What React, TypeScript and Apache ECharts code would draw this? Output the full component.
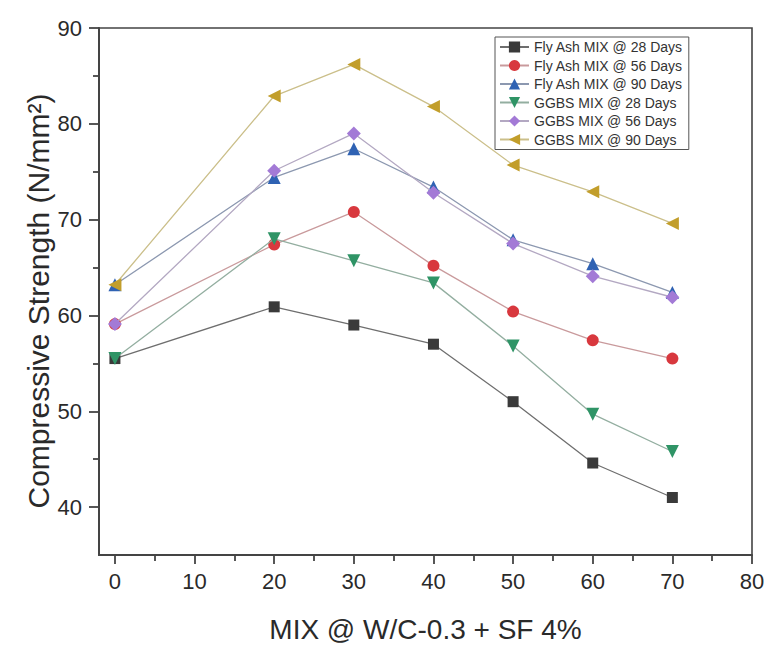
import React, { useEffect, useRef } from "react";
import * as echarts from "echarts";

// Replacement level (%) along the x axis
const mixLevels = [0, 20, 30, 40, 50, 60, 70];

// Compressive strength (N/mm²) for each mix and curing age
const flyAsh28 = [55.5, 60.9, 59.0, 57.0, 51.0, 44.6, 41.0];
const flyAsh56 = [59.1, 67.4, 70.8, 65.2, 60.4, 57.4, 55.5];
const flyAsh90 = [63.2, 74.4, 77.4, 73.4, 67.9, 65.4, 62.4];
const ggbs28 = [55.5, 68.0, 65.7, 63.4, 56.8, 49.7, 45.8];
const ggbs56 = [59.1, 75.1, 79.0, 72.8, 67.5, 64.1, 61.9];
const ggbs90 = [63.2, 82.9, 86.2, 81.8, 75.7, 72.9, 69.6];

const seriesNames = [
  "Fly Ash MIX @ 28 Days",
  "Fly Ash MIX @ 56 Days",
  "Fly Ash MIX @ 90 Days",
  "GGBS MIX @ 28 Days",
  "GGBS MIX @ 56 Days",
  "GGBS MIX @ 90 Days",
];

// Tick values
const xMajorTicks = [0, 10, 20, 30, 40, 50, 60, 70, 80];
const xMinorTicks = [5, 15, 25, 35, 45, 55, 65, 75];
const yMajorTicks = [40, 50, 60, 70, 80, 90];
const yMinorTicks = [45, 55, 65, 75, 85];

const X_MIN = -2;
const X_MAX = 80;
const Y_MIN = 35;
const Y_MAX = 90;

const xTitle = "MIX @ W/C-0.3 + SF 4%";
const yTitle = "Compressive Strength (N/mm²)";

const FONT = "'Liberation Sans', Arial, sans-serif";
const AXIS_COLOR = "#444";
const TEXT_COLOR = "#2a2a2a";

type Style = {
  symbol: string;
  size: number | number[];
  rotate: number;
  color: string;
  line: string;
};

const styles: Style[] = [
  { symbol: "rect", size: 11, rotate: 0, color: "#3a3a3a", line: "#6e6e6e" },
  { symbol: "circle", size: 12, rotate: 0, color: "#d8383e", line: "#c99a9c" },
  { symbol: "triangle", size: 13, rotate: 0, color: "#2f62b3", line: "#8c98b0" },
  { symbol: "triangle", size: 13, rotate: 180, color: "#2f9466", line: "#93aea0" },
  { symbol: "diamond", size: [14, 14], rotate: 0, color: "#a37ad6", line: "#b3a8c2" },
  { symbol: "triangle", size: 13, rotate: 90, color: "#c29e2b", line: "#cbbf8a" },
];

const values = [flyAsh28, flyAsh56, flyAsh90, ggbs28, ggbs56, ggbs90];

const GRID_POS = { left: 99, top: 28, right: 30, bottom: 105 };

export default function App() {
  const ref = useRef<HTMLDivElement>(null);

  useEffect(() => {
    if (!ref.current) return;
    const chart = echarts.init(ref.current, undefined, { renderer: "svg" });

    const series = values.map((vals, i) => ({
      name: seriesNames[i],
      type: "line",
      xAxisIndex: 0,
      yAxisIndex: 0,
      data: mixLevels.map((x, j) => [x, vals[j]]),
      symbol: styles[i].symbol,
      symbolSize: styles[i].size,
      symbolRotate: styles[i].rotate,
      showAllSymbol: true,
      itemStyle: { color: styles[i].color, opacity: 1 },
      lineStyle: { color: styles[i].line, width: 1.3 },
      z: 2 + i,
    }));

    // Axes in an overlaid grid that only carry the short minor ticks
    const minorAxisBase = {
      type: "value",
      gridIndex: 1,
      axisLine: { show: false, onZero: false },
      axisLabel: { show: false },
      splitLine: { show: false },
    };

    chart.setOption({
      animation: false,
      backgroundColor: "#ffffff",
      grid: [
        {
          ...GRID_POS,
          show: true,
          borderColor: AXIS_COLOR,
          borderWidth: 1.6,
          backgroundColor: "transparent",
        },
        { ...GRID_POS, show: false },
      ],
      legend: {
        orient: "vertical",
        left: 495,
        top: 37,
        padding: [3, 6, 3, 4],
        itemWidth: 29,
        itemHeight: 14,
        itemGap: 4.5,
        borderColor: "#555",
        borderWidth: 1,
        backgroundColor: "#ffffff",
        textStyle: {
          fontFamily: FONT,
          fontSize: 14,
          color: "#333",
          lineHeight: 14,
        },
        data: seriesNames,
      },
      graphic: [
        {
          type: "text",
          x: 38,
          y: 301,
          rotation: Math.PI / 2,
          style: {
            text: yTitle,
            fontFamily: FONT,
            fontSize: 30,
            fill: TEXT_COLOR,
            align: "center",
            verticalAlign: "middle",
          },
        },
      ],
      xAxis: [
        {
          type: "value",
          gridIndex: 0,
          min: X_MIN,
          max: X_MAX,
          position: "bottom",
          name: xTitle,
          nameLocation: "middle",
          nameGap: 60,
          nameTextStyle: { fontFamily: FONT, fontSize: 28, color: TEXT_COLOR },
          axisLine: { show: true, onZero: false, lineStyle: { color: AXIS_COLOR, width: 2 } },
          axisTick: {
            show: true,
            inside: false,
            length: 9,
            customValues: xMajorTicks,
            lineStyle: { color: AXIS_COLOR, width: 1.8 },
          },
          axisLabel: {
            customValues: xMajorTicks,
            margin: 15,
            fontFamily: FONT,
            fontSize: 22,
            color: TEXT_COLOR,
          },
          splitLine: { show: false },
        },
        {
          ...minorAxisBase,
          min: X_MIN,
          max: X_MAX,
          position: "bottom",
          axisTick: {
            show: true,
            inside: false,
            length: 6,
            customValues: xMinorTicks,
            lineStyle: { color: AXIS_COLOR, width: 1.8 },
          },
        },
      ],
      yAxis: [
        {
          type: "value",
          gridIndex: 0,
          min: Y_MIN,
          max: Y_MAX,
          position: "left",
          axisLine: { show: true, onZero: false, lineStyle: { color: AXIS_COLOR, width: 2 } },
          axisTick: {
            show: true,
            inside: false,
            length: 10,
            customValues: yMajorTicks,
            lineStyle: { color: AXIS_COLOR, width: 1.8 },
          },
          axisLabel: {
            customValues: yMajorTicks,
            margin: 17,
            fontFamily: FONT,
            fontSize: 22,
            color: TEXT_COLOR,
          },
          splitLine: { show: false },
        },
        {
          ...minorAxisBase,
          min: Y_MIN,
          max: Y_MAX,
          position: "left",
          axisTick: {
            show: true,
            inside: false,
            length: 6,
            customValues: yMinorTicks,
            lineStyle: { color: AXIS_COLOR, width: 1.8 },
          },
        },
      ],
      series,
    });

    return () => chart.dispose();
  }, []);

  return (
    <div
      ref={ref}
      style={{ position: "fixed", left: 0, top: 0, width: 782, height: 660, background: "#fff" }}
    />
  );
}
